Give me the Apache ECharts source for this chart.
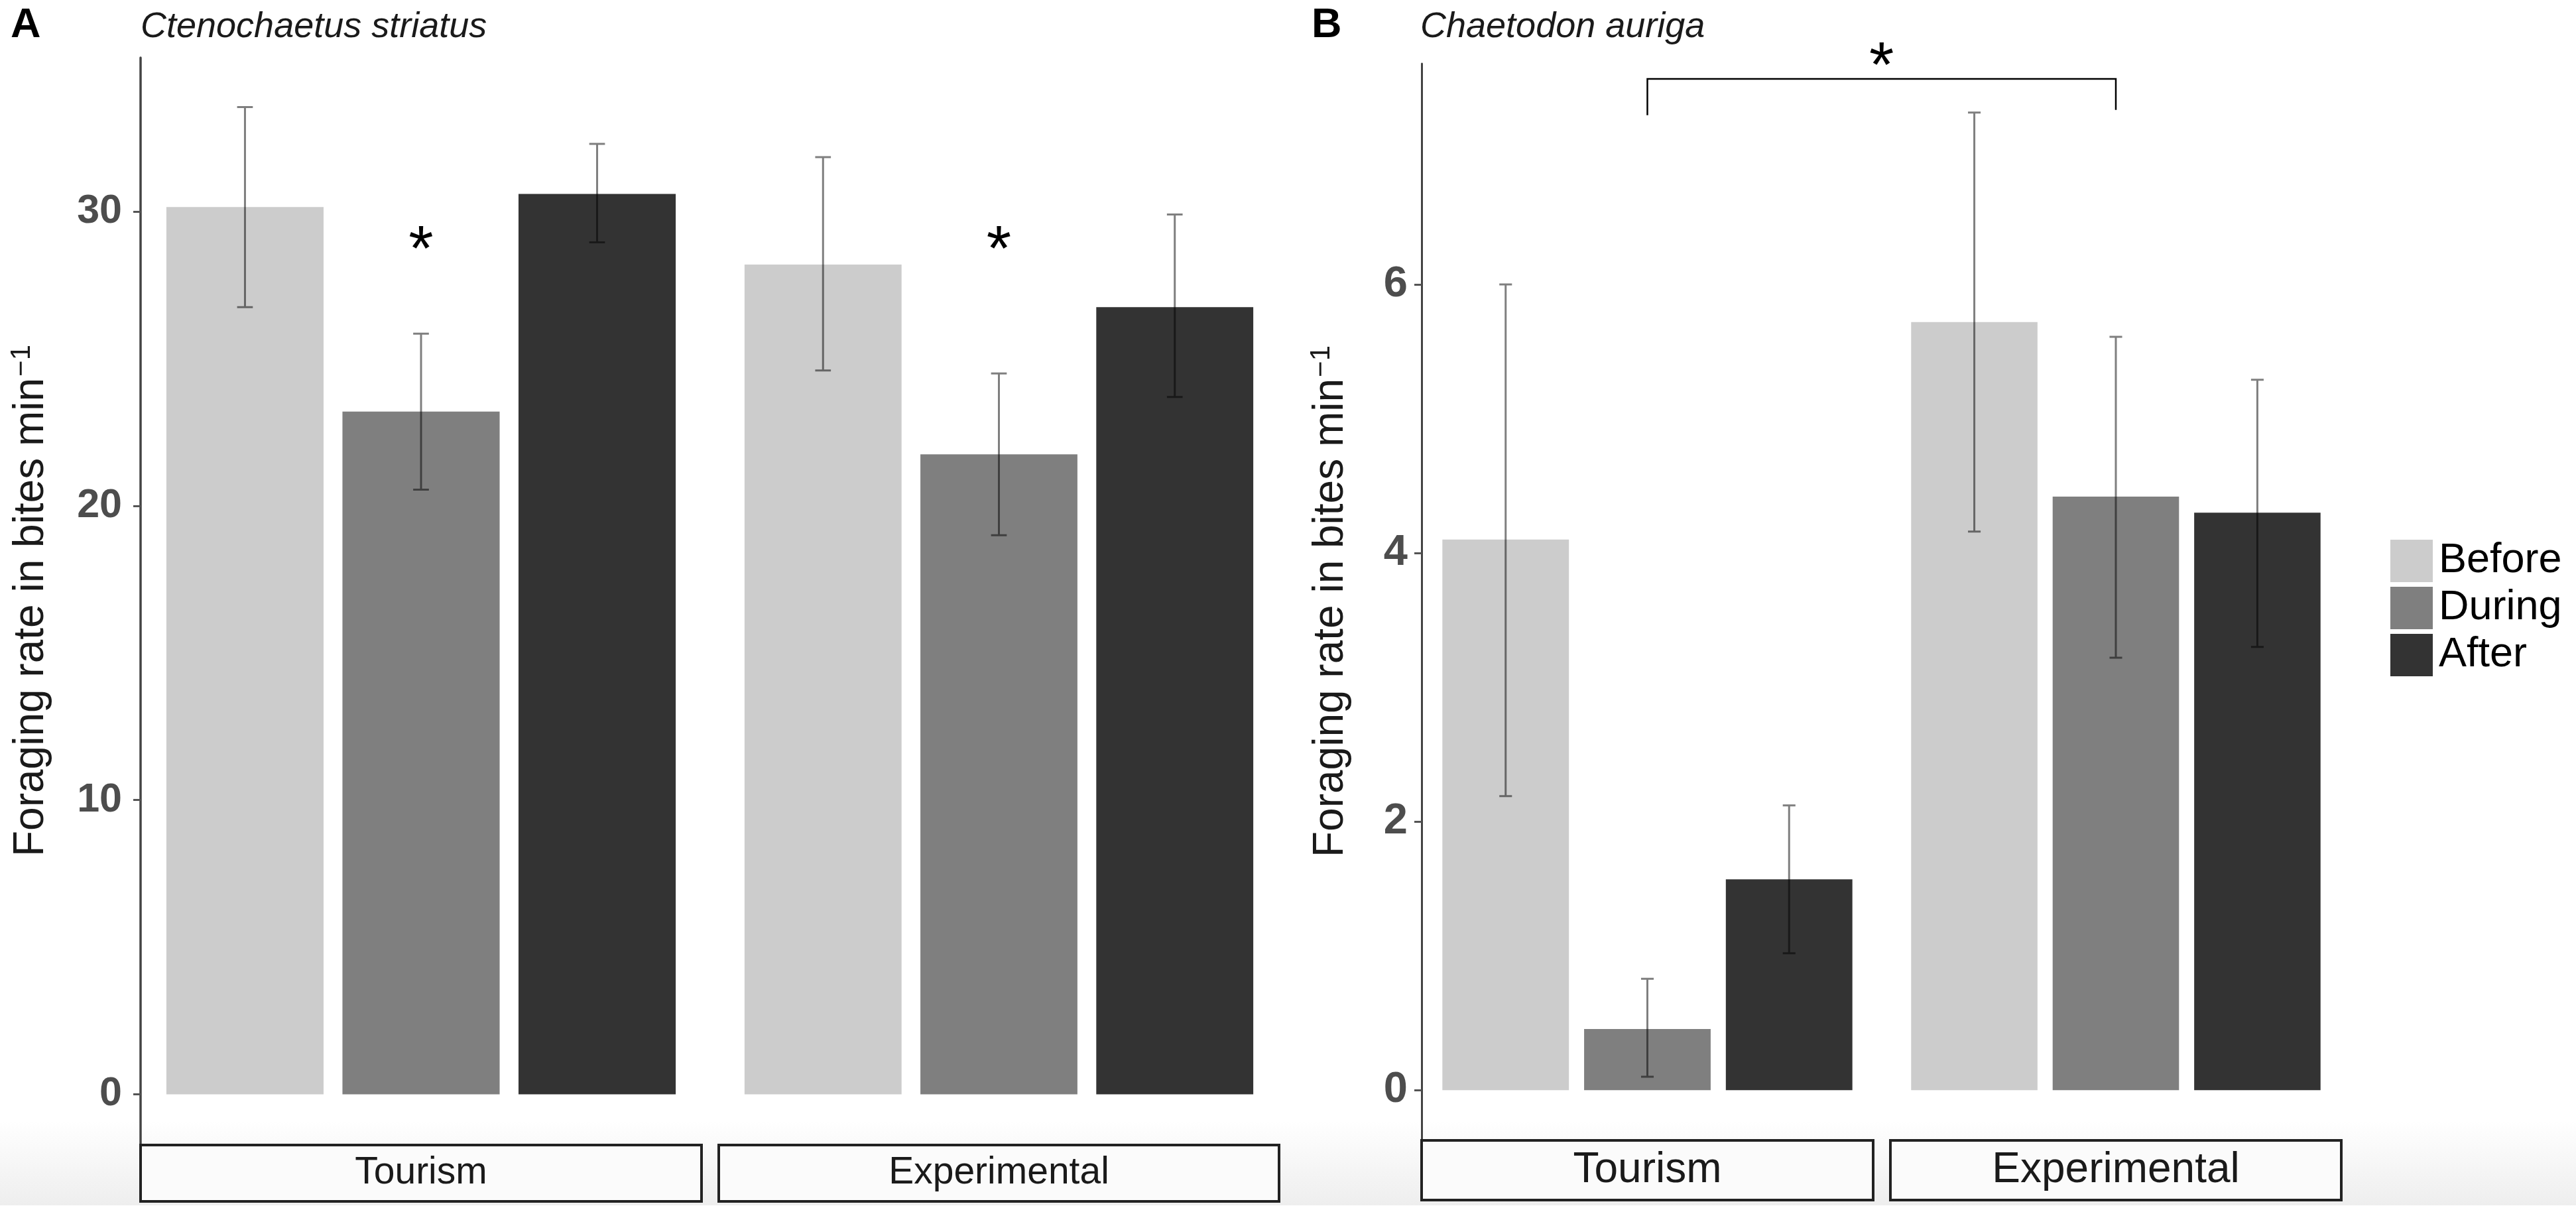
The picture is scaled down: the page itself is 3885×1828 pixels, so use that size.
<!DOCTYPE html>
<html>
<head>
<meta charset="utf-8">
<title>Foraging rate</title>
<script src="https://cdn.jsdelivr.net/npm/echarts@6/dist/echarts.min.js"></script>
<style>
html, body { margin: 0; padding: 0; background: #fff; }
#main { width: 3885px; height: 1828px; }
</style>
</head>
<body>
<div id="main"></div>
<script>
// 数据
const periods = ['Before', 'During', 'After'];
const periodColors = ['#cccccc', '#7f7f7f', '#333333'];

// A: Ctenochaetus striatus (Before, During, After)
const aTourismMean = [30.15, 23.2, 30.6];
const aTourismLow = [26.75, 20.55, 28.95];
const aTourismHigh = [33.55, 25.85, 32.3];
const aExpMean = [28.2, 21.75, 26.75];
const aExpLow = [24.6, 19.0, 23.7];
const aExpHigh = [31.85, 24.5, 29.9];
const aTicks = [0, 10, 20, 30];
const aStars = [29.13, 29.13];   // * over During, Tourism / Experimental

// B: Chaetodon auriga
const bTourismMean = [4.1, 0.455, 1.57];
const bTourismLow = [2.19, 0.10, 1.02];
const bTourismHigh = [6.0, 0.83, 2.12];
const bExpMean = [5.72, 4.42, 4.30];
const bExpLow = [4.16, 3.22, 3.30];
const bExpHigh = [7.28, 5.61, 5.29];
const bTicks = [0, 2, 4, 6];
const bBracket = [7.26, 7.53, 7.30]; // left leg, bar, right leg
const bStar = 7.72;

const FONT = "'Liberation Sans', Arial, Helvetica, sans-serif";
const CAT_GAP = 0.092;
const BAR_GAP = 0.12;
const CAP = 0.1;
const STAR_SIZE = 96;

// facets: grid boxes
const facets = [
	{ site: 'Tourism', mean: aTourismMean, low: aTourismLow, high: aTourismHigh, panel: 0,
	  box: { left: 212, top: 87, width: 846, height: 1638 }, stripFont: 57, stripH: 81 },
	{ site: 'Experimental', mean: aExpMean, low: aExpLow, high: aExpHigh, panel: 0,
	  box: { left: 1084, top: 87, width: 845, height: 1638 }, stripFont: 57, stripH: 81 },
	{ site: 'Tourism', mean: bTourismMean, low: bTourismLow, high: bTourismHigh, panel: 1,
	  box: { left: 2144, top: 96, width: 681, height: 1622 }, stripFont: 64, stripH: 86 },
	{ site: 'Experimental', mean: bExpMean, low: bExpLow, high: bExpHigh, panel: 1,
	  box: { left: 2851, top: 96, width: 680, height: 1622 }, stripFont: 64, stripH: 86 }
];

// ggplot 的 5% 扩展
function panelRange(highs) {
	let m = Math.max.apply(null, highs);
	return [-0.05 * m, 1.05 * m];
}
const aRange = panelRange(aTourismHigh.concat(aExpHigh));
const bRange = panelRange(bTourismHigh.concat(bExpHigh));

function errorBarItem(params, api) {
	let slot = api.value(3);
	let top = api.coord([0, api.value(2)]);
	let bottom = api.coord([0, api.value(1)]);
	let band = api.size([1, 0])[0];
	let used = band * (1 - CAT_GAP);
	let w = used / (3 + 2 * BAR_GAP);
	let x = top[0] - used / 2 + w / 2 + slot * w * (1 + BAR_GAP);
	let h = w * CAP / 2;
	return {
		type: 'path',
		shape: {
			pathData: 'M' + (x - h) + ' ' + top[1] + 'L' + (x + h) + ' ' + top[1] +
				'M' + x + ' ' + top[1] + 'L' + x + ' ' + bottom[1] +
				'M' + (x - h) + ' ' + bottom[1] + 'L' + (x + h) + ' ' + bottom[1]
		},
		style: { fill: null, stroke: 'rgba(0,0,0,0.5)', lineWidth: 3 }
	};
}

function starItem(params, api) {
	let p = api.coord([0, api.value(1)]);
	return {
		type: 'text',
		style: {
			text: '*', x: p[0], y: p[1] + STAR_SIZE * 0.24,
			fontSize: STAR_SIZE, fontFamily: FONT, fill: '#000',
			align: 'center', verticalAlign: 'middle'
		}
	};
}

let grids = [], xAxes = [], yAxes = [], series = [];
facets.forEach(function (f, i) {
	let isA = f.panel === 0;
	let first = i === 0 || i === 2;
	let range = isA ? aRange : bRange;
	grids.push(Object.assign({ containLabel: false }, f.box));
	xAxes.push({
		type: 'category', gridIndex: i, data: [f.site],
		axisLine: { show: false }, axisTick: { show: false },
		axisLabel: {
			show: true, interval: 0, margin: 4,
			width: f.box.width - 4, height: f.stripH, lineHeight: f.stripH,
			align: 'center', fontSize: f.stripFont, fontFamily: FONT, color: '#1a1a1a',
			backgroundColor: '#fbfbfb', borderColor: '#222', borderWidth: 4
		}
	});
	yAxes.push({
		type: 'value', gridIndex: i, min: range[0], max: range[1],
		splitLine: { show: false },
		axisLine: { show: first, lineStyle: { color: '#444', width: isA ? 3.5 : 3 } },
		axisTick: { show: first, length: 11, customValues: isA ? aTicks : bTicks,
			lineStyle: { color: '#555', width: 3 } },
		axisLabel: { show: first, customValues: isA ? aTicks : bTicks,
			margin: isA ? 28 : 21, fontSize: isA ? 61 : 65, fontWeight: 'bold',
			fontFamily: FONT, color: '#4d4d4d' },
		name: first ? 'Foraging rate in bites min{sup|\u22121}' : '',
		nameLocation: 'middle', nameGap: isA ? 130 : 102,
		nameTextStyle: { fontSize: 64, fontFamily: FONT, color: '#1a1a1a',
			rich: { sup: { fontSize: 42, fontFamily: FONT, color: '#1a1a1a', verticalAlign: 'top', padding: [0, 0, 28, 2] } } }
	});
	periods.forEach(function (p, k) {
		series.push({
			type: 'bar', name: p, xAxisIndex: i, yAxisIndex: i,
			data: [f.mean[k]], barGap: (BAR_GAP * 100) + '%', barCategoryGap: (CAT_GAP * 100) + '%',
			itemStyle: { color: periodColors[k] }, silent: true
		});
	});
	series.push({
		type: 'custom', xAxisIndex: i, yAxisIndex: i, z: 5, silent: true,
		encode: { x: 0, y: [1, 2] },
		data: periods.map(function (p, k) { return [0, f.low[k], f.high[k], k]; }),
		renderItem: errorBarItem
	});
	if (isA) {
		series.push({
			type: 'custom', xAxisIndex: i, yAxisIndex: i, z: 5, silent: true,
			encode: { x: 0, y: 1 },
			data: [[0, aStars[i]]],
			renderItem: starItem
		});
	}
});

let myChart = echarts.init(document.getElementById('main'));
let chartOption = {
	animation: false,
	backgroundColor: '#fff',
	title: [
		{ text: 'A', left: 16, top: 7, padding: 0, textStyle: { fontSize: 63, fontWeight: 'bold', fontFamily: FONT, color: '#000' } },
		{ text: 'Ctenochaetus striatus', left: 212, top: 14, padding: 0, textStyle: { fontSize: 54, fontStyle: 'italic', fontWeight: 'normal', fontFamily: FONT, color: '#1a1a1a' } },
		{ text: 'B', left: 1978, top: 7, padding: 0, textStyle: { fontSize: 63, fontWeight: 'bold', fontFamily: FONT, color: '#000' } },
		{ text: 'Chaetodon auriga', left: 2142, top: 14, padding: 0, textStyle: { fontSize: 54, fontStyle: 'italic', fontWeight: 'normal', fontFamily: FONT, color: '#1a1a1a' } }
	],
	legend: {
		data: periods, orient: 'vertical', left: 3605, top: 814,
		itemWidth: 64, itemHeight: 64, itemGap: 7, icon: 'rect', padding: 0,
		selectedMode: false,
		textStyle: { fontSize: 63, fontFamily: FONT, color: '#000', padding: [0, 0, 0, 4] }
	},
	grid: grids,
	xAxis: xAxes,
	yAxis: yAxes,
	series: series
};
myChart.setOption(chartOption);

// B 面板的显著性括号
let lp = myChart.convertToPixel({ gridIndex: 2 }, [0, bBracket[1]]);
let rp = myChart.convertToPixel({ gridIndex: 3 }, [0, bBracket[1]]);
let lLeg = myChart.convertToPixel({ gridIndex: 2 }, [0, bBracket[0]]);
let rLeg = myChart.convertToPixel({ gridIndex: 3 }, [0, bBracket[2]]);
let sp = myChart.convertToPixel({ gridIndex: 2 }, [0, bStar]);
myChart.setOption({
	graphic: [
		{ type: 'rect', z: -10, silent: true, shape: { x: 0, y: 1690, width: 3885, height: 128 },
		  style: { fill: new echarts.graphic.LinearGradient(0, 0, 0, 1, [
			{ offset: 0, color: 'rgba(238,238,238,0)' }, { offset: 1, color: 'rgba(238,238,238,1)' }]) } },
		{ type: 'polyline', z: 10, silent: true,
		  shape: { points: [[lp[0], lLeg[1]], [lp[0], lp[1]], [rp[0], rp[1]], [rp[0], rLeg[1]]] },
		  style: { stroke: '#000', lineWidth: 2.5, fill: null } },
		{ type: 'text', z: 10, silent: true,
		  style: { text: '*', x: (lp[0] + rp[0]) / 2, y: sp[1] + STAR_SIZE * 0.24, fontSize: STAR_SIZE,
			fontFamily: FONT, fill: '#000', align: 'center', verticalAlign: 'middle' } }
	]
});

window.onresize = myChart.resize;
</script>
</body>
</html>
